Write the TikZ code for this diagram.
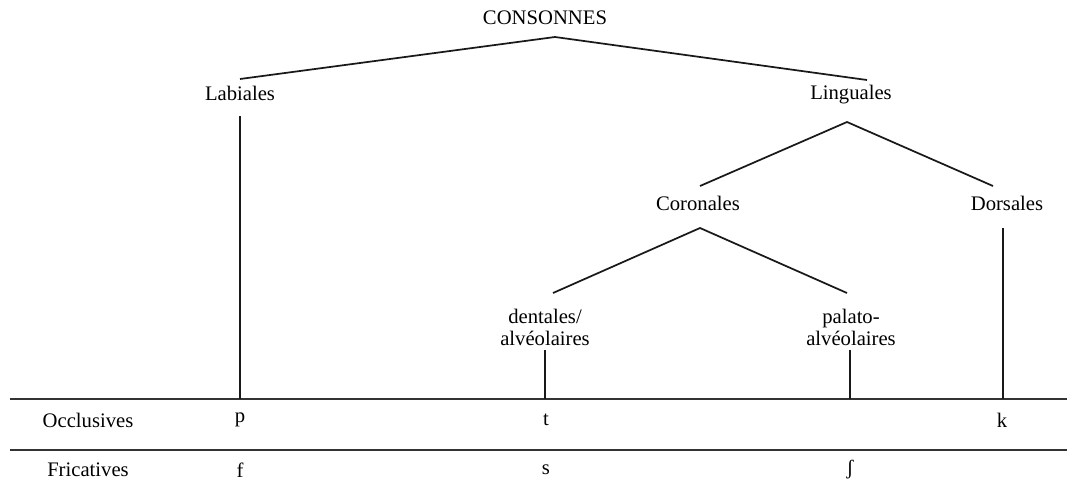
\documentclass[tikz,border=0pt]{standalone}
\usepackage{fontspec}
\setmainfont{Liberation Serif}
\begin{document}
\begin{tikzpicture}[x=0.75pt,y=-0.75pt,
  lbl/.style={inner sep=0pt, align=center, font=\fontsize{15.5}{16.5}\selectfont},
  branch/.style={line width=1.3pt, draw=black!90},
  rule/.style={line width=1.6pt, draw=black!80}]
\useasboundingbox (0,0) rectangle (1067,497);
% tree labels
\node[lbl] (cons) at (545,18) {CONSONNES};
\node[lbl] (lab)  at (240,93) {Labiales};
\node[lbl] (ling) at (851,95) {Linguales};
\node[lbl] (cor)  at (698,203) {Coronales};
\node[lbl] (dor)  at (1007,203) {Dorsales};
\node[lbl] (dent) at (545,327) {dentales/\\alvéolaires};
\node[lbl] (pal)  at (851,327) {palato-\\alvéolaires};
% table rules
\coordinate (h1l) at (10,399);
\coordinate (h1r) at (1067,399);
\coordinate (h2l) at (10,450);
\coordinate (h2r) at (1067,450);
\draw[rule] (h1l) -- (h1r);
\draw[rule] (h2l) -- (h2r);
% row labels and cells
\node[lbl] (occ)  at (88,420) {Occlusives};
\node[lbl] (fric) at (88,470) {Fricatives};
\node[lbl] (p) at (240,420) {p};
\node[lbl] (t) at (546,420) {t};
\node[lbl] (k) at (1002,420) {k};
\node[lbl] (f) at (240,470) {f};
\node[lbl] (s) at (546,470) {s};
\node[lbl] (sh) at (850,470) {ʃ};
% branches
\draw[branch] ([shift={(0,-14)}]lab.center) -- ([shift={(10,19)}]cons.center) -- ([shift={(16,-15)}]ling.center);
\draw[branch] ([shift={(2,-17)}]cor.center) -- ([shift={(-4,27)}]ling.center) -- ([shift={(-14,-17)}]dor.center);
\draw[branch] ([shift={(8,-34)}]dent.center) -- ([shift={(2,25)}]cor.center) -- ([shift={(-4,-34)}]pal.center);
% verticals
\draw[branch] ([shift={(0,23)}]lab.center) -- (lab |- h1l);
\draw[branch] ([shift={(-4,25)}]dor.center) -- ([xshift=-4*0.75pt]dor.center |- h1l);
\draw[branch] ([shift={(0,23)}]dent.center) -- (dent |- h1l);
\draw[branch] ([shift={(-1,23)}]pal.center) -- ([xshift=-0.75pt]pal.center |- h1l);
\end{tikzpicture}
\end{document}
